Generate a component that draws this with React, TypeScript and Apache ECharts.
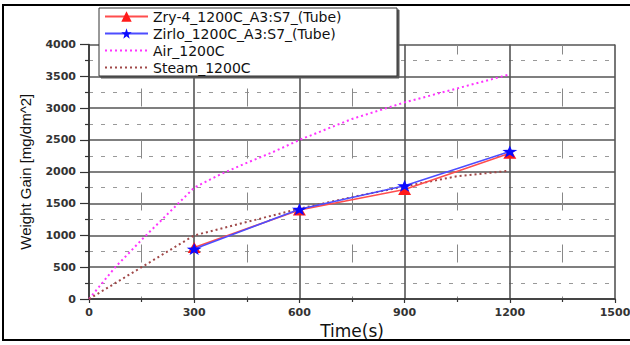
import React, { useEffect, useRef } from "react";
import * as echarts from "echarts";

// ---- data ----
const seriesNames = [
  "Zry-4_1200C_A3:S7_(Tube)",
  "Zirlo_1200C_A3:S7_(Tube)",
  "Air_1200C",
  "Steam_1200C",
];
const tubeTime = [300, 600, 900, 1200];
const zry4Gain = [810, 1400, 1720, 2290];
const zirloGain = [785, 1410, 1780, 2320];
const airTime = [0, 75, 150, 225, 300, 375, 450, 525, 600, 750, 900, 1050, 1200];
const airGain = [0, 500, 930, 1340, 1750, 1960, 2140, 2310, 2500, 2830, 3090, 3310, 3530];
const steamTime = [0, 150, 300, 450, 600, 750, 900, 1050, 1190];
const steamGain = [0, 500, 1000, 1210, 1420, 1600, 1770, 1930, 2010];
const xTicks = { min: 0, max: 1500, interval: 300 };
const yTicks = { min: 0, max: 4000, interval: 500 };

const zip = (xs: number[], ys: number[]) => xs.map((x, i) => [x, ys[i]]);

const STAR =
  "path://M0,-10 L2.35,-3.24 L9.51,-3.09 L3.8,1.24 L5.88,8.09 L0,4 L-5.88,8.09 L-3.8,1.24 L-9.51,-3.09 L-2.35,-3.24 Z";
const hiddenSymbol = { color: "rgba(0,0,0,0)", borderWidth: 0, opacity: 0 };

export default function App() {
  const ref = useRef<HTMLDivElement>(null);
  useEffect(() => {
    if (!ref.current) return;
    const chart = echarts.init(ref.current, null, { renderer: "svg" });
    const tickLabel = {
      fontFamily: "DejaVu Sans",
      fontWeight: "bold" as const,
      fontSize: 11,
      color: "#333",
      formatter: (v: number) => String(v),
    };
    chart.setOption({
      animation: false,
      backgroundColor: "#fff",
      grid: {
        left: 89,
        right: 15,
        top: 44.5,
        bottom: 46,
        containLabel: false,
        outerBoundsMode: "none",
      },
      legend: {
        orient: "vertical",
        left: 99,
        top: 8,
        padding: [0, 2, 0, 5],
        itemWidth: 43,
        itemHeight: 13,
        itemGap: 0,
        backgroundColor: "#fff",
        borderColor: "#333",
        borderWidth: 1,
        shadowColor: "#555",
        shadowBlur: 0,
        shadowOffsetX: 2,
        shadowOffsetY: 2,
        textStyle: {
          fontFamily: "DejaVu Sans",
          fontSize: 14,
          lineHeight: 17,
          width: 242,
          color: "#111",
        },
        data: [
          { name: seriesNames[0] },
          { name: seriesNames[1] },
          { name: seriesNames[2], itemStyle: hiddenSymbol },
          { name: seriesNames[3], itemStyle: hiddenSymbol },
        ],
      },
      xAxis: {
        type: "value",
        min: xTicks.min,
        max: xTicks.max,
        interval: xTicks.interval,
        name: "Time(s)",
        nameLocation: "middle",
        nameGap: 23,
        nameTextStyle: { fontFamily: "DejaVu Sans", fontSize: 17, color: "#111" },
        axisLine: { show: true, onZero: false, lineStyle: { color: "#333", width: 1.5 } },
        axisTick: { show: true, inside: false, length: 4, lineStyle: { color: "#333", width: 1.2 } },
        minorTick: { show: true, splitNumber: 2, length: 3, lineStyle: { color: "#333", width: 1.2 } },
        axisLabel: { ...tickLabel, margin: 8 },
        splitLine: { show: true, lineStyle: { color: "#555", width: 1.6 } },
        minorSplitLine: {
          show: true,
          lineStyle: { color: "#888", width: 1, type: [18, 34], dashOffset: 8 },
        },
      },
      yAxis: {
        type: "value",
        min: yTicks.min,
        max: yTicks.max,
        interval: yTicks.interval,
        name: "Weight Gain [mg/dm^2]",
        nameLocation: "middle",
        nameRotate: 90,
        nameGap: 56,
        nameTextStyle: { fontFamily: "Liberation Sans", fontSize: 15, color: "#111" },
        axisLine: { show: true, onZero: false, lineStyle: { color: "#333", width: 1.5 } },
        axisTick: { show: true, inside: false, length: 9, lineStyle: { color: "#333", width: 1.2 } },
        minorTick: { show: true, splitNumber: 2, length: 4, lineStyle: { color: "#333", width: 1.2 } },
        axisLabel: { ...tickLabel, margin: 13 },
        splitLine: { show: true, lineStyle: { color: "#555", width: 1.6 } },
        minorSplitLine: {
          show: true,
          lineStyle: { color: "#999", width: 1, type: [4, 8] },
        },
      },
      series: [
        {
          name: seriesNames[0],
          type: "line",
          data: zip(tubeTime, zry4Gain),
          symbol: "triangle",
          symbolSize: [13, 11],
          itemStyle: { color: "#ff1a1a" },
          lineStyle: { color: "#ff4d4d", width: 1.6 },
          z: 3,
        },
        {
          name: seriesNames[1],
          type: "line",
          data: zip(tubeTime, zirloGain),
          symbol: STAR,
          symbolKeepAspect: false,
          symbolSize: [15, 12],
          itemStyle: { color: "#0a0aff" },
          lineStyle: { color: "#4d4dff", width: 1.6 },
          z: 4,
        },
        {
          name: seriesNames[2],
          type: "line",
          data: zip(airTime, airGain),
          symbol: "none",
          itemStyle: { color: "#ff33ff" },
          lineStyle: { color: "#ff33ff", width: 2, type: [2, 3] },
          z: 2,
        },
        {
          name: seriesNames[3],
          type: "line",
          data: zip(steamTime, steamGain),
          symbol: "none",
          itemStyle: { color: "#a04848" },
          lineStyle: { color: "#a04848", width: 2, type: [2, 3] },
          z: 2,
        },
      ],
      graphic: [
        {
          type: "rect",
          silent: true,
          z: 100,
          shape: { x: 3, y: 5, width: 632, height: 335 },
          style: { fill: "none", stroke: "#000", lineWidth: 2 },
        },
      ],
    });
    return () => chart.dispose();
  }, []);
  return (
    <div
      ref={ref}
      style={{ position: "absolute", left: 0, top: 0, width: 630, height: 345 }}
    />
  );
}
